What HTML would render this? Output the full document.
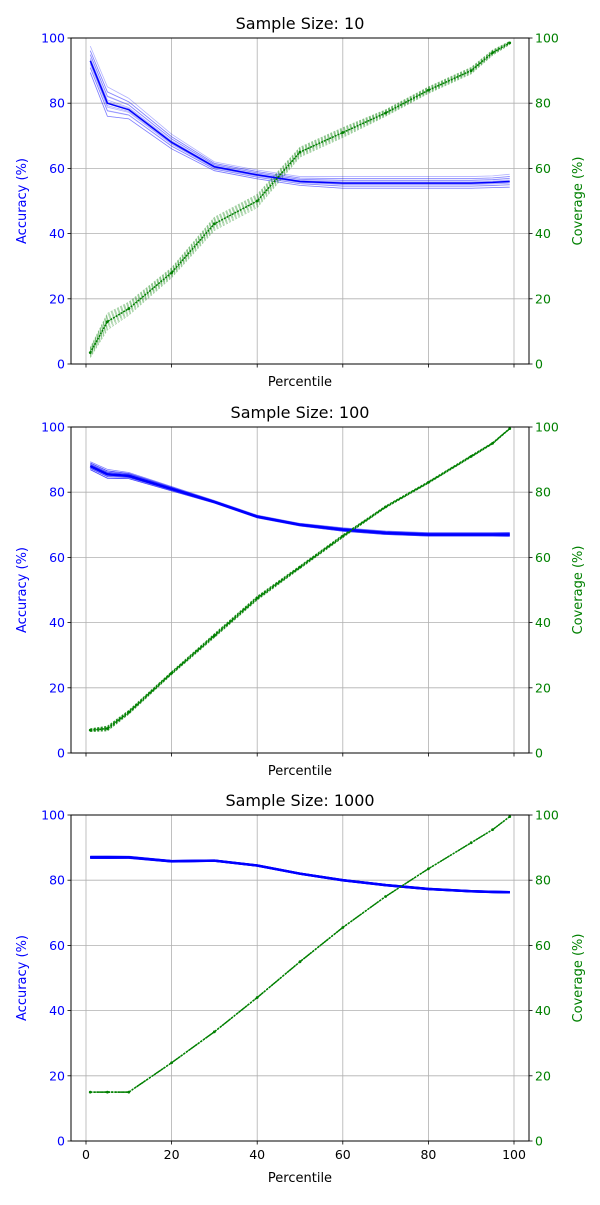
<!DOCTYPE html>
<html><head><meta charset="utf-8"><style>
body{margin:0;background:#fff;width:600px;height:1200px;overflow:hidden}
svg{font-family:"DejaVu Sans","Liberation Sans",sans-serif}
</style></head><body>
<svg id="chart" width="600" height="1200" xmlns="http://www.w3.org/2000/svg"></svg>
<script>
const percentiles = [1,5,10,20,30,40,50,60,70,80,90,95,99];
const titles = ["Sample Size: 10","Sample Size: 100","Sample Size: 1000"];
const acc10 = [93,80,78,68,60.5,58,56,55.5,55.5,55.5,55.5,55.7,56];
const cov10 = [3.5,13,17,28,43,50,65,71,77,84,90,95.5,98.5];
const acc100 = [88,85.5,85,81,77,72.5,70,68.5,67.5,67,67,67,67];
const cov100 = [7,7.5,12.5,24.5,36,47.5,57,66.5,75.5,83,91,95,99.5];
const acc1000 = [87,87,87,85.8,86,84.5,82,80,78.5,77.3,76.6,76.4,76.3];
const cov1000 = [15,15,15,24,33.5,44,55,65.5,75,83.5,91.5,95.5,99.5];
const accSpread = [4.5,5,3.5,2.5,1.5,1.5,1.5,2,2,2,2,2,2.2];
const covSpread = [1.5,2.5,2,1.5,2,2,1.5,1.5,1,1,1,0.8,0.5];
const spreadScale = [1,0.3,0.05];
const traceOffsets = [-1,-0.8,-0.6,-0.45,-0.3,-0.15,0,0.1,0.25,0.4,0.55,0.7,0.85,1];
const yTicks = [0,20,40,60,80,100];
const xTicks = [0,20,40,60,80,100];
const accs=[acc10,acc100,acc1000], covs=[cov10,cov100,cov1000];
const tops=[38,427,815], H=326, L=71, R=529;
const svg=document.getElementById('chart');
const NS="http://www.w3.org/2000/svg";
function xs(v){return 86+(v)*4.28;}
function mk(tag,attrs,parent){const e=document.createElementNS(NS,tag);for(const k in attrs)e.setAttribute(k,attrs[k]);(parent||svg).appendChild(e);return e;}
function txt(s,attrs,parent){const e=mk('text',attrs,parent);e.textContent=s;return e;}
for(let p=0;p<3;p++){
  const top=tops[p];
  const ys=v=>top+H-v/100*H;
  const g=mk('g',{});
  
  
  xTicks.forEach(t=>{mk('line',{x1:xs(t),x2:xs(t),y1:top,y2:top+H,stroke:'#b0b0b0','stroke-width':0.8},g);
    mk('line',{x1:xs(t),x2:xs(t),y1:top+H,y2:top+H+3.5,stroke:'#000','stroke-width':0.8},g);
    if(p===2){const l=txt(String(t),{x:xs(t),y:top+H+18,'font-size':12.5,'text-anchor':'middle'},g);
      
      }
  });
  yTicks.forEach(t=>{const y=ys(t);
    mk('line',{x1:L,x2:R,y1:y,y2:y,stroke:'#b0b0b0','stroke-width':0.8},g);
    mk('line',{x1:L-3.5,x2:L,y1:y,y2:y,stroke:'#000','stroke-width':0.8},g);
    mk('line',{x1:R,x2:R+3.5,y1:y,y2:y,stroke:'#000','stroke-width':0.8},g);
    const a=txt(String(t),{x:L-6,y:y+4.5,'font-size':12.5,'text-anchor':'end',fill:'blue'},g);
    
    
    const b=txt(String(t),{x:R+6,y:y+4.5,'font-size':12.5,fill:'green'},g);
    
    
  });
  const sc=spreadScale[p];
  traceOffsets.forEach((o,i)=>{
    const pa=percentiles.map((x,j)=>xs(x)+','+ys(accs[p][j]+o*accSpread[j]*sc*(i%2?1:0.8))).join(' ');
    const l1=mk('polyline',{points:pa,fill:'none',stroke:'blue','stroke-width':p===2?2:0.8,'stroke-opacity':p===0?0.3:0.5},g);
    
    
    const pc=percentiles.map((x,j)=>xs(x)+','+ys(covs[p][j]+o*covSpread[j]*sc)).join(' ');
    const l2=mk('polyline',{points:pc,fill:'none',stroke:'green','stroke-width':0.8,'stroke-opacity':p===0?0.4:0.6,'stroke-dasharray':'2,1.5'},g);
    
    
  });
  const pm=percentiles.map((x,j)=>xs(x)+','+ys(accs[p][j])).join(' ');
  mk('polyline',{points:pm,fill:'none',stroke:'blue','stroke-width':p===0?1.5:2.5},g);
  const pcm=percentiles.map((x,j)=>xs(x)+','+ys(covs[p][j])).join(' ');
  mk('polyline',{points:pcm,fill:'none',stroke:'green','stroke-width':1.5,'stroke-dasharray':'2,1'},g);
  percentiles.forEach((x,j)=>{const c=mk('circle',{cx:xs(x),cy:ys(covs[p][j]),r:1.4,fill:'green'},g);
    
    });
  mk('rect',{x:L,y:top,width:R-L,height:H,fill:'none',stroke:'#000','stroke-width':1},g);
  const t=txt(titles[p],{x:300,y:top-9,'font-size':16,'text-anchor':'middle'},g);
  
  
  const xl=txt('Percentile',{x:300,y:top+H+(p===2?41:22),'font-size':13,'text-anchor':'middle'},g);
  
  
  const yl=txt('Accuracy (%)',{x:0,y:0,'font-size':13,'text-anchor':'middle',fill:'blue',transform:`translate(26,${top+H/2}) rotate(-90)`},g);
  
  
  const yr=txt('Coverage (%)',{x:0,y:0,'font-size':13,'text-anchor':'middle',fill:'green',transform:`translate(582,${top+H/2}) rotate(-90)`},g);
  
  
}
</script>
</body></html>
